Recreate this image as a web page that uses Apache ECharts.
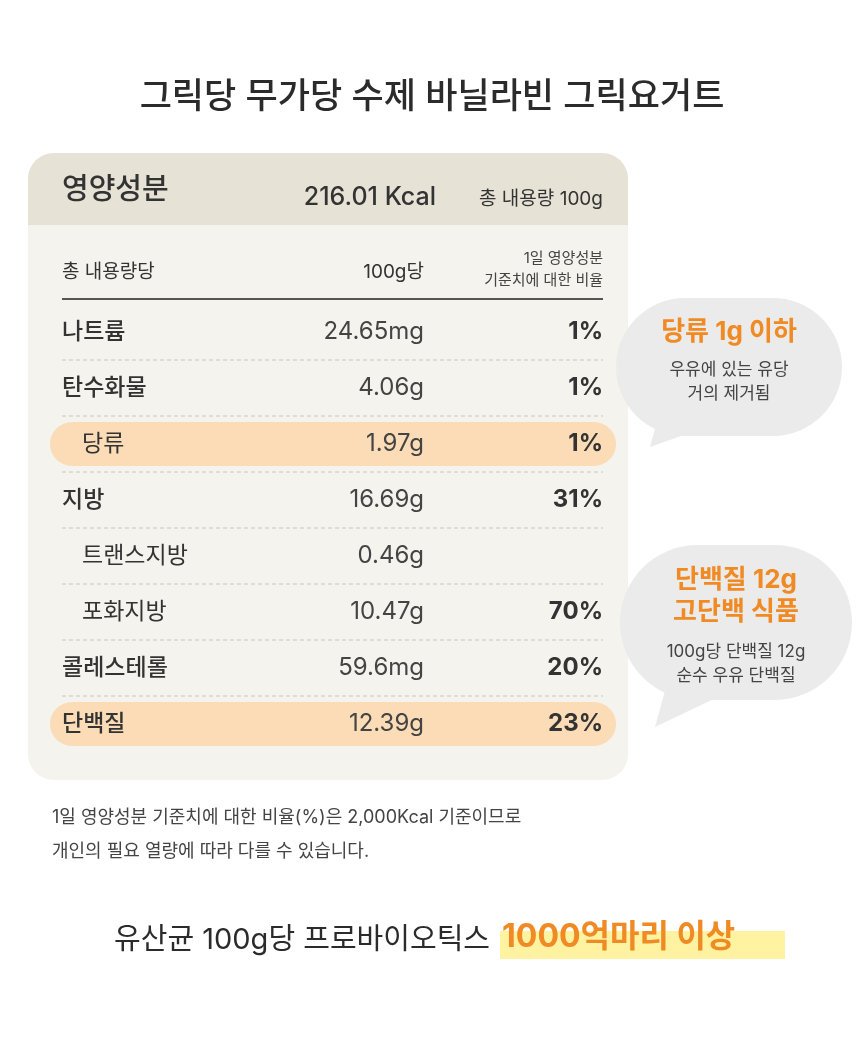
<!DOCTYPE html>
<html>
<head>
<meta charset="utf-8">
<title>그릭요거트 영양성분</title>
<style>
html,body{margin:0;background:#fff;}
#chart{width:860px;height:1054px;}
</style>
</head>
<body>
<div id="chart"></div>
<script src="https://cdn.jsdelivr.net/npm/echarts@6/dist/echarts.min.js"></script>
<script>
// 표 데이터
var rowNames = ['나트륨', '탄수화물', '당류', '지방', '트랜스지방', '포화지방', '콜레스테롤', '단백질'];
var rowValues = ['24.65mg', '4.06g', '1.97g', '16.69g', '0.46g', '10.47g', '59.6mg', '12.39g'];
var rowPercents = ['1%', '1%', '1%', '31%', '', '70%', '20%', '23%'];
var rowSub = [false, false, true, false, true, true, false, false];
var rowHighlight = [false, false, true, false, false, false, false, true];

var FONT = 'Inter, "Noto Sans CJK KR", sans-serif';
var ORANGE = '#f08a24';

function txt(x, y, s, size, opt) {
  opt = opt || {};
  return {
    type: 'text', z: 10,
    style: {
      x: x, y: y, text: s,
      fontSize: size, fontFamily: FONT,
      fontWeight: opt.w || 'normal',
      fill: opt.c || '#333',
      align: opt.a || 'left',
      verticalAlign: 'middle'
    }
  };
}

var els = [];
els.push(txt(432, 97, '그릭당 무가당 수제 바닐라빈 그릭요거트', 35, {a: 'center', w: 500, c: '#2b2b2b'}));

// 카드
els.push({type: 'rect', shape: {x: 28, y: 153, width: 600, height: 627, r: 26}, style: {fill: '#f5f3ee'}});
els.push({type: 'rect', shape: {x: 28, y: 153, width: 600, height: 72, r: [26, 26, 0, 0]}, style: {fill: '#e6e2d6'}});
els.push(txt(62, 190, '영양성분', 29, {w: 500}));
els.push(txt(436, 197, '216.01 Kcal', 25, {a: 'right', w: 500}));
els.push(txt(603, 199, '총 내용량 100g', 19, {a: 'right'}));

els.push(txt(62, 272, '총 내용량당', 19));
els.push(txt(424, 272, '100g당', 19, {a: 'right'}));
els.push(txt(603, 258, '1일 영양성분', 15, {a: 'right', c: '#444'}));
els.push(txt(603, 280, '기준치에 대한 비율', 15, {a: 'right', c: '#444'}));
els.push({type: 'line', shape: {x1: 62, y1: 299, x2: 603, y2: 299}, style: {stroke: '#555', lineWidth: 2}});

for (var i = 0; i < rowNames.length; i++) {
  var y = 332 + i * 56;
  if (rowHighlight[i]) {
    els.push({type: 'rect', shape: {x: 50, y: y - 22, width: 566, height: 44, r: 22}, style: {fill: '#fbdcb6'}});
  }
  if (i < rowNames.length - 1) {
    els.push({type: 'line', shape: {x1: 62, y1: y + 28, x2: 603, y2: y + 28},
      style: {stroke: '#c9c6bf', lineWidth: 1, lineDash: [4, 3]}});
  }
  els.push(txt(rowSub[i] ? 82 : 62, y, rowNames[i], 23, {w: rowSub[i] ? 'normal' : 500, c: '#333'}));
  els.push(txt(424, y, rowValues[i], 24, {a: 'right', c: '#444'}));
  if (rowPercents[i]) els.push(txt(603, y, rowPercents[i], 24, {a: 'right', w: 'bold', c: '#333'}));
}

// 말풍선
function bubble(x, y, w, h, tail, lines) {
  els.push({type: 'polygon', shape: {points: tail}, style: {fill: '#ebebeb'}});
  els.push({type: 'rect', shape: {x: x, y: y, width: w, height: h, r: h / 2}, style: {fill: '#ebebeb'}});
  lines.forEach(function (l) { els.push(l); });
}
bubble(616, 298, 226, 138, [[660, 410], [712, 425], [650, 447]], [
  txt(729, 332, '당류 1g 이하', 26, {a: 'center', w: 'bold', c: ORANGE}),
  txt(729, 370, '우유에 있는 유당', 17, {a: 'center', c: '#444'}),
  txt(729, 394, '거의 제거됨', 17, {a: 'center', c: '#444'})
]);
bubble(620, 545, 232, 155, [[668, 680], [722, 695], [655, 727]], [
  txt(736, 580, '단백질 12g', 26, {a: 'center', w: 'bold', c: ORANGE}),
  txt(736, 612, '고단백 식품', 26, {a: 'center', w: 'bold', c: ORANGE}),
  txt(736, 652, '100g당 단백질 12g', 17, {a: 'center', c: '#444'}),
  txt(736, 676, '순수 우유 단백질', 17, {a: 'center', c: '#444'})
]);

els.push(txt(52, 818, '1일 영양성분 기준치에 대한 비율(%)은 2,000Kcal 기준이므로', 18, {c: '#444'}));
els.push(txt(52, 852, '개인의 필요 열량에 따라 다를 수 있습니다.', 18, {c: '#444'}));

els.push({type: 'rect', shape: {x: 500, y: 931, width: 285, height: 28}, style: {fill: '#fff3a2'}});
els.push(txt(490, 940, '유산균 100g당 프로바이오틱스', 29, {a: 'right', c: '#2b2b2b'}));
els.push(txt(502, 937, '1000억마리 이상', 32, {w: 'bold', c: ORANGE}));

var chart = echarts.init(document.getElementById('chart'));
chart.setOption({backgroundColor: '#fff', graphic: {elements: els}});
</script>
</body>
</html>
